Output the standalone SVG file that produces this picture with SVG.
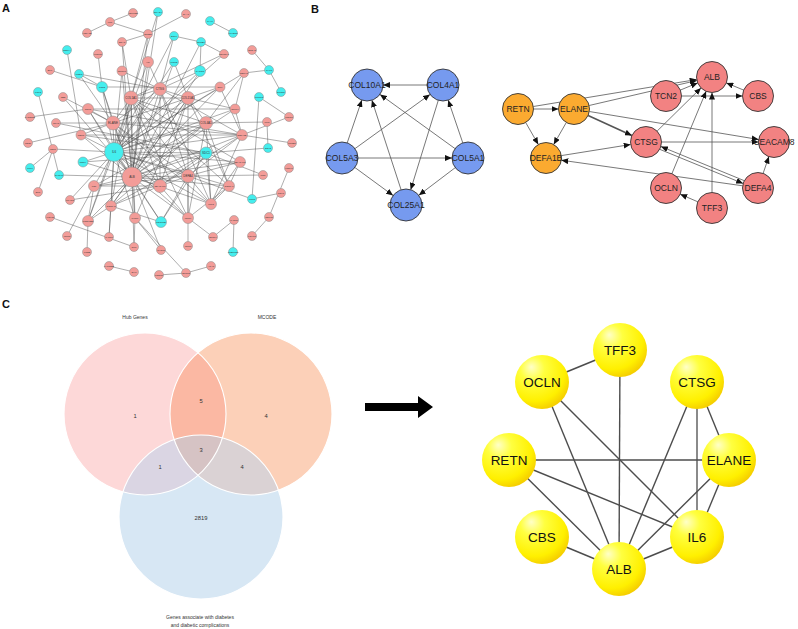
<svg xmlns="http://www.w3.org/2000/svg" width="798" height="629" viewBox="0 0 798 629">
<style>
text{font-family:"Liberation Sans",Arial,sans-serif}
.lbl{font-size:11px;font-weight:bold;fill:#111}
.ae line{stroke:#4a4a4a;stroke-width:0.45}
.ap{fill:#f39c98;stroke:#8a8a8a;stroke-width:0.5}
.ac{fill:#44eeee;stroke:#8a8a8a;stroke-width:0.5}
.at{font-size:2.3px;fill:#333;text-anchor:middle;dominant-baseline:central}
.aT{font-size:3px;fill:#333;text-anchor:middle;dominant-baseline:central}
.be line{stroke:#555;stroke-width:0.8;marker-end:url(#arr)}
.bb{fill:#769aef;stroke:#333;stroke-width:0.9}
.bo{fill:#fbaa30;stroke:#333;stroke-width:0.9}
.bp{fill:#f28282;stroke:#333;stroke-width:0.9}
.bt{font-size:8.5px;fill:#222;text-anchor:middle;dominant-baseline:central}
.vt{font-size:5px;fill:#333;text-anchor:middle}
.vn{font-size:5.8px;fill:#333;text-anchor:middle}
.ye line{stroke:#4d4d4d;stroke-width:1.4}
.yn{fill:url(#yg)}
.yt{font-size:13.5px;fill:#111;text-anchor:middle;dominant-baseline:central}
</style>
<defs>
<marker id="arr" markerWidth="7" markerHeight="6" refX="7" refY="3" orient="auto" markerUnits="userSpaceOnUse"><path d="M0,0L7,3L0,6z" fill="#111"/></marker>
<radialGradient id="yg" cx="0.38" cy="0.32" r="0.75" fx="0.3" fy="0.22">
<stop offset="0" stop-color="#ffffc8"/><stop offset="0.3" stop-color="#ffff40"/><stop offset="0.75" stop-color="#fff000"/><stop offset="1" stop-color="#f2c400"/>
</radialGradient>
<clipPath id="cH"><circle cx="145" cy="414" r="81"/></clipPath>
<clipPath id="cM"><circle cx="251" cy="414" r="81"/></clipPath>
</defs>
<rect width="798" height="629" fill="#fff"/>
<text class="lbl" x="2" y="12">A</text>
<text class="lbl" x="311" y="13">B</text>
<text class="lbl" x="2" y="308">C</text>

<!-- Panel A edges -->
<g id="edges-A" class="ae">
<line x1="133" y1="13" x2="110" y2="22"/><line x1="110" y1="22" x2="87" y2="33"/><line x1="110" y1="22" x2="148" y2="34"/><line x1="158" y1="12" x2="131" y2="98"/><line x1="186" y1="14" x2="148" y2="34"/><line x1="210" y1="21" x2="233" y2="33"/><line x1="174" y1="36" x2="201" y2="42"/><line x1="174" y1="36" x2="114" y2="152"/><line x1="201" y1="42" x2="224" y2="54"/><line x1="201" y1="42" x2="200" y2="71"/><line x1="201" y1="42" x2="132" y2="177"/><line x1="252" y1="50" x2="269" y2="70"/><line x1="269" y1="70" x2="281" y2="92"/><line x1="269" y1="70" x2="244" y2="73"/><line x1="67" y1="50" x2="81" y2="135"/><line x1="98" y1="54" x2="102" y2="87"/><line x1="122" y1="42" x2="148" y2="34"/><line x1="122" y1="42" x2="132" y2="177"/><line x1="50" y1="70" x2="102" y2="87"/><line x1="79" y1="74" x2="102" y2="87"/><line x1="79" y1="74" x2="160" y2="89"/><line x1="38" y1="92" x2="59" y2="175"/><line x1="30" y1="117" x2="88" y2="109"/><line x1="28" y1="143" x2="113" y2="123"/><line x1="30" y1="168" x2="53" y2="149"/><line x1="38" y1="192" x2="53" y2="149"/><line x1="50" y1="217" x2="134" y2="247"/><line x1="67" y1="236" x2="94" y2="186"/><line x1="87" y1="252" x2="88" y2="221"/><line x1="109" y1="266" x2="134" y2="272"/><line x1="159" y1="275" x2="186" y2="273"/><line x1="186" y1="273" x2="211" y2="266"/><line x1="186" y1="273" x2="135" y2="218"/><line x1="289" y1="168" x2="269" y2="217"/><line x1="269" y1="217" x2="252" y2="236"/><line x1="281" y1="193" x2="252" y2="199"/><line x1="252" y1="199" x2="188" y2="176"/><line x1="234" y1="220" x2="213" y2="237"/><line x1="234" y1="220" x2="233" y2="252"/><line x1="213" y1="237" x2="188" y2="218"/><line x1="188" y1="246" x2="188" y2="218"/><line x1="259" y1="97" x2="289" y2="117"/><line x1="259" y1="97" x2="252" y2="199"/><line x1="267" y1="122" x2="268" y2="148"/><line x1="292" y1="143" x2="242" y2="135"/>
<line x1="148" y1="34" x2="132" y2="177"/><line x1="148" y1="34" x2="131" y2="98"/><line x1="148" y1="62" x2="132" y2="177"/><line x1="148" y1="62" x2="160" y2="89"/><line x1="174" y1="62" x2="114" y2="152"/><line x1="174" y1="62" x2="132" y2="177"/><line x1="200" y1="71" x2="132" y2="177"/><line x1="200" y1="71" x2="114" y2="152"/><line x1="244" y1="73" x2="114" y2="152"/><line x1="244" y1="73" x2="235" y2="109"/><line x1="220" y1="87" x2="242" y2="135"/><line x1="224" y1="54" x2="114" y2="152"/><line x1="102" y1="87" x2="113" y2="123"/><line x1="102" y1="87" x2="220" y2="87"/><line x1="63" y1="97" x2="132" y2="177"/><line x1="63" y1="97" x2="113" y2="123"/><line x1="56" y1="123" x2="206" y2="153"/><line x1="88" y1="109" x2="242" y2="135"/><line x1="81" y1="135" x2="242" y2="135"/><line x1="81" y1="135" x2="206" y2="153"/><line x1="53" y1="149" x2="114" y2="152"/><line x1="83" y1="162" x2="114" y2="152"/><line x1="83" y1="162" x2="132" y2="177"/><line x1="59" y1="175" x2="132" y2="177"/><line x1="94" y1="186" x2="132" y2="177"/><line x1="94" y1="186" x2="88" y2="221"/><line x1="70" y1="200" x2="114" y2="152"/><line x1="111" y1="206" x2="88" y2="221"/><line x1="111" y1="206" x2="109" y2="237"/><line x1="135" y1="218" x2="134" y2="247"/><line x1="135" y1="218" x2="161" y2="250"/><line x1="161" y1="222" x2="188" y2="176"/><line x1="161" y1="222" x2="206" y2="153"/><line x1="160" y1="186" x2="188" y2="218"/><line x1="229" y1="186" x2="188" y2="218"/><line x1="211" y1="204" x2="229" y2="186"/><line x1="263" y1="175" x2="188" y2="176"/><line x1="263" y1="175" x2="206" y2="153"/><line x1="109" y1="237" x2="114" y2="152"/><line x1="134" y1="247" x2="132" y2="177"/><line x1="88" y1="221" x2="114" y2="152"/><line x1="88" y1="221" x2="132" y2="177"/>
<line x1="114" y1="152" x2="113" y2="123"/><line x1="114" y1="152" x2="132" y2="177"/><line x1="114" y1="152" x2="131" y2="98"/><line x1="114" y1="152" x2="160" y2="89"/><line x1="114" y1="152" x2="188" y2="98"/><line x1="114" y1="152" x2="206" y2="123"/><line x1="114" y1="152" x2="242" y2="135"/><line x1="114" y1="152" x2="206" y2="153"/><line x1="114" y1="152" x2="188" y2="176"/><line x1="114" y1="152" x2="160" y2="186"/><line x1="114" y1="152" x2="211" y2="204"/><line x1="114" y1="152" x2="94" y2="186"/><line x1="114" y1="152" x2="111" y2="206"/><line x1="114" y1="152" x2="135" y2="218"/><line x1="114" y1="152" x2="88" y2="109"/><line x1="114" y1="152" x2="81" y2="135"/><line x1="114" y1="152" x2="122" y2="71"/><line x1="114" y1="152" x2="102" y2="87"/><line x1="114" y1="152" x2="148" y2="62"/><line x1="114" y1="152" x2="188" y2="218"/><line x1="114" y1="152" x2="240" y2="162"/><line x1="114" y1="152" x2="235" y2="109"/><line x1="114" y1="152" x2="220" y2="87"/><line x1="114" y1="152" x2="229" y2="186"/><line x1="114" y1="152" x2="161" y2="222"/>
<line x1="132" y1="177" x2="113" y2="123"/><line x1="132" y1="177" x2="131" y2="98"/><line x1="132" y1="177" x2="160" y2="89"/><line x1="132" y1="177" x2="188" y2="98"/><line x1="132" y1="177" x2="206" y2="123"/><line x1="132" y1="177" x2="242" y2="135"/><line x1="132" y1="177" x2="206" y2="153"/><line x1="132" y1="177" x2="188" y2="176"/><line x1="132" y1="177" x2="160" y2="186"/><line x1="132" y1="177" x2="211" y2="204"/><line x1="132" y1="177" x2="111" y2="206"/><line x1="132" y1="177" x2="135" y2="218"/><line x1="132" y1="177" x2="161" y2="222"/><line x1="132" y1="177" x2="188" y2="218"/><line x1="132" y1="177" x2="88" y2="109"/><line x1="132" y1="177" x2="81" y2="135"/><line x1="132" y1="177" x2="102" y2="87"/><line x1="132" y1="177" x2="122" y2="71"/><line x1="132" y1="177" x2="220" y2="87"/><line x1="132" y1="177" x2="235" y2="109"/><line x1="132" y1="177" x2="229" y2="186"/><line x1="132" y1="177" x2="161" y2="250"/><line x1="132" y1="177" x2="158" y2="12"/><line x1="132" y1="177" x2="240" y2="162"/>
<line x1="113" y1="123" x2="131" y2="98"/><line x1="113" y1="123" x2="160" y2="89"/><line x1="113" y1="123" x2="188" y2="98"/><line x1="113" y1="123" x2="206" y2="123"/><line x1="113" y1="123" x2="242" y2="135"/><line x1="113" y1="123" x2="188" y2="176"/><line x1="113" y1="123" x2="160" y2="186"/><line x1="113" y1="123" x2="211" y2="204"/><line x1="113" y1="123" x2="88" y2="109"/><line x1="113" y1="123" x2="81" y2="135"/><line x1="113" y1="123" x2="56" y2="123"/><line x1="113" y1="123" x2="79" y2="74"/>
<line x1="131" y1="98" x2="188" y2="98"/><line x1="131" y1="98" x2="206" y2="123"/><line x1="131" y1="98" x2="160" y2="89"/><line x1="131" y1="98" x2="111" y2="206"/><line x1="131" y1="98" x2="229" y2="186"/><line x1="131" y1="98" x2="224" y2="54"/><line x1="131" y1="98" x2="88" y2="221"/><line x1="131" y1="98" x2="122" y2="42"/><line x1="131" y1="98" x2="188" y2="176"/><line x1="131" y1="98" x2="160" y2="186"/><line x1="131" y1="98" x2="135" y2="218"/><line x1="131" y1="98" x2="188" y2="218"/><line x1="131" y1="98" x2="240" y2="162"/>
<line x1="160" y1="89" x2="242" y2="135"/><line x1="160" y1="89" x2="188" y2="176"/><line x1="160" y1="89" x2="160" y2="186"/><line x1="160" y1="89" x2="211" y2="204"/><line x1="160" y1="89" x2="188" y2="98"/><line x1="160" y1="89" x2="200" y2="71"/><line x1="160" y1="89" x2="174" y2="36"/><line x1="160" y1="89" x2="122" y2="71"/>
<line x1="188" y1="98" x2="206" y2="123"/><line x1="188" y1="98" x2="111" y2="206"/><line x1="188" y1="98" x2="229" y2="186"/><line x1="188" y1="98" x2="220" y2="87"/><line x1="188" y1="98" x2="188" y2="218"/><line x1="188" y1="98" x2="160" y2="186"/><line x1="188" y1="98" x2="135" y2="218"/><line x1="188" y1="98" x2="235" y2="109"/><line x1="188" y1="98" x2="174" y2="62"/>
<line x1="206" y1="123" x2="111" y2="206"/><line x1="206" y1="123" x2="229" y2="186"/><line x1="206" y1="123" x2="188" y2="218"/><line x1="206" y1="123" x2="211" y2="204"/><line x1="206" y1="123" x2="244" y2="73"/><line x1="206" y1="123" x2="267" y2="122"/><line x1="206" y1="123" x2="94" y2="186"/>
<line x1="242" y1="135" x2="188" y2="176"/><line x1="242" y1="135" x2="160" y2="186"/><line x1="242" y1="135" x2="211" y2="204"/><line x1="242" y1="135" x2="235" y2="109"/><line x1="242" y1="135" x2="289" y2="117"/>
<line x1="206" y1="153" x2="268" y2="148"/><line x1="206" y1="153" x2="160" y2="186"/><line x1="206" y1="153" x2="111" y2="206"/><line x1="206" y1="153" x2="211" y2="204"/><line x1="206" y1="153" x2="83" y2="162"/>
<line x1="188" y1="176" x2="160" y2="186"/><line x1="188" y1="176" x2="211" y2="204"/><line x1="188" y1="176" x2="188" y2="218"/><line x1="188" y1="176" x2="240" y2="162"/><line x1="188" y1="176" x2="94" y2="186"/><line x1="160" y1="186" x2="94" y2="186"/><line x1="160" y1="186" x2="70" y2="200"/><line x1="160" y1="186" x2="111" y2="206"/><line x1="211" y1="204" x2="240" y2="162"/><line x1="111" y1="206" x2="161" y2="222"/><line x1="229" y1="186" x2="240" y2="162"/><line x1="88" y1="109" x2="235" y2="109"/>
</g>

<!-- Panel A nodes -->
<g id="nodes-A">
<g id="a1"><circle class="ap" cx="133" cy="13" r="4.5"/><text class="at" x="133" y="13">HSP90B1</text></g>
<g id="a2"><circle class="ac" cx="158" cy="12" r="4.5"/><text class="at" x="158" y="12">SMAD4</text></g>
<g id="a3"><circle class="ap" cx="186" cy="14" r="4.5"/><text class="at" x="186" y="14">SAA1</text></g>
<g id="a4"><circle class="ap" cx="110" cy="22" r="4.5"/><text class="at" x="110" y="22">LCT</text></g>
<g id="a5"><circle class="ac" cx="210" cy="21" r="4.5"/><text class="at" x="210" y="21">PAX7</text></g>
<g id="a6"><circle class="ap" cx="87" cy="33" r="4.5"/><text class="at" x="87" y="33">HSPA1B</text></g>
<g id="a7"><circle class="ap" cx="148" cy="34" r="4.5"/><text class="at" x="148" y="34">SPSB1</text></g>
<g id="a8"><circle class="ac" cx="174" cy="36" r="4.5"/><text class="at" x="174" y="36">EGFL</text></g>
<g id="a9"><circle class="ac" cx="233" cy="33" r="4.5"/><text class="at" x="233" y="33">KLHDC8</text></g>
<g id="a10"><circle class="ap" cx="122" cy="42" r="4.5"/><text class="at" x="122" y="42">SNAI1</text></g>
<g id="a11"><circle class="ac" cx="201" cy="42" r="4.5"/><text class="at" x="201" y="42">EFNB1</text></g>
<g id="a12"><circle class="ac" cx="67" cy="50" r="4.5"/><text class="at" x="67" y="50">SCN4A</text></g>
<g id="a13"><circle class="ap" cx="252" cy="50" r="4.5"/><text class="at" x="252" y="50">SPSA2</text></g>
<g id="a14"><circle class="ap" cx="98" cy="54" r="4.5"/><text class="at" x="98" y="54">MCM10</text></g>
<g id="a15"><circle class="ap" cx="148" cy="62" r="5.5"/><text class="at" x="148" y="62">VIP</text></g>
<g id="a16"><circle class="ac" cx="174" cy="62" r="4.5"/><text class="at" x="174" y="62">MCM2</text></g>
<g id="a17"><circle class="ap" cx="224" cy="54" r="4.5"/><text class="at" x="224" y="54">COL18A1</text></g>
<g id="a18"><circle class="ap" cx="50" cy="70" r="4.5"/><text class="at" x="50" y="70">BLK</text></g>
<g id="a19"><circle class="ac" cx="79" cy="74" r="4.5"/><text class="at" x="79" y="74">PODN</text></g>
<g id="a20"><circle class="ap" cx="122" cy="71" r="5"/><text class="at" x="122" y="71">SPINK1</text></g>
<g id="a21"><circle class="ac" cx="200" cy="71" r="5.5"/><text class="at" x="200" y="71">NANOG</text></g>
<g id="a22"><circle class="ac" cx="269" cy="70" r="4.5"/><text class="at" x="269" y="70">CALR</text></g>
<g id="a23"><circle class="ap" cx="244" cy="73" r="4.5"/><text class="at" x="244" y="73">SEMA3</text></g>
<g id="a24"><circle class="ac" cx="102" cy="87" r="5.5"/><text class="at" x="102" y="87">TCN2</text></g>
<g id="a25"><circle class="ap" cx="160" cy="89" r="6.5"/><text class="aT" x="160" y="89">CTSG</text></g>
<g id="a26"><circle class="ap" cx="220" cy="87" r="5"/><text class="at" x="220" y="87">SLPI</text></g>
<g id="a27"><circle class="ac" cx="38" cy="92" r="4.5"/><text class="at" x="38" y="92">FGF2</text></g>
<g id="a28"><circle class="ap" cx="63" cy="97" r="4.5"/><text class="at" x="63" y="97">CBS</text></g>
<g id="a29"><circle class="ap" cx="131" cy="98" r="7"/><text class="aT" x="131" y="98">COL1A1</text></g>
<g id="a30"><circle class="ap" cx="188" cy="98" r="6.5"/><text class="aT" x="188" y="98">COL15A1</text></g>
<g id="a31"><circle class="ac" cx="259" cy="97" r="4.5"/><text class="at" x="259" y="97">TCF7L2</text></g>
<g id="a32"><circle class="ac" cx="281" cy="92" r="4.5"/><text class="at" x="281" y="92">SPON1</text></g>
<g id="a33"><circle class="ap" cx="88" cy="109" r="5.5"/><text class="at" x="88" y="109">OCLN</text></g>
<g id="a34"><circle class="ap" cx="235" cy="109" r="5"/><text class="at" x="235" y="109">OLFM4</text></g>
<g id="a35"><circle class="ap" cx="30" cy="117" r="4.5"/><text class="at" x="30" y="117">TACSTD2</text></g>
<g id="a36"><circle class="ap" cx="289" cy="117" r="4.5"/><text class="at" x="289" y="117">TRPC1</text></g>
<g id="a37"><circle class="ap" cx="56" cy="123" r="4.5"/><text class="at" x="56" y="123">GPX3</text></g>
<g id="a38"><circle class="ap" cx="113" cy="123" r="7"/><text class="aT" x="113" y="123">ELANE</text></g>
<g id="a39"><circle class="ap" cx="206" cy="123" r="6.5"/><text class="aT" x="206" y="123">COL4A1</text></g>
<g id="a40"><circle class="ap" cx="267" cy="122" r="4.5"/><text class="at" x="267" y="122">MLN</text></g>
<g id="a41"><circle class="ap" cx="81" cy="135" r="5"/><text class="at" x="81" y="135">RETN</text></g>
<g id="a42"><circle class="ap" cx="242" cy="135" r="5.5"/><text class="at" x="242" y="135">DEFA1B</text></g>
<g id="a43"><circle class="ap" cx="28" cy="143" r="4.5"/><text class="at" x="28" y="143">CD36</text></g>
<g id="a44"><circle class="ap" cx="292" cy="143" r="4.5"/><text class="at" x="292" y="143">CCNE1</text></g>
<g id="a45"><circle class="ap" cx="53" cy="149" r="4.5"/><text class="at" x="53" y="149">LEPR</text></g>
<g id="a46"><circle class="ac" cx="114" cy="152" r="9.5"/><text class="aT" x="114" y="152">IL6</text></g>
<g id="a47"><circle class="ac" cx="206" cy="153" r="6"/><text class="aT" x="206" y="153">SDC1</text></g>
<g id="a48"><circle class="ac" cx="268" cy="148" r="4.5"/><text class="at" x="268" y="148">SOX2</text></g>
<g id="a49"><circle class="ac" cx="30" cy="168" r="4.5"/><text class="at" x="30" y="168">TFF1</text></g>
<g id="a50"><circle class="ac" cx="83" cy="162" r="5"/><text class="at" x="83" y="162">REG4</text></g>
<g id="a51"><circle class="ap" cx="240" cy="162" r="5.5"/><text class="at" x="240" y="162">CEACAM8</text></g>
<g id="a52"><circle class="ac" cx="59" cy="175" r="4.5"/><text class="at" x="59" y="175">SHOX2</text></g>
<g id="a53"><circle class="ap" cx="132" cy="177" r="10"/><text class="aT" x="132" y="177">ALB</text></g>
<g id="a54"><circle class="ap" cx="188" cy="176" r="6.5"/><text class="aT" x="188" y="176">DEFA4</text></g>
<g id="a55"><circle class="ap" cx="289" cy="168" r="4.5"/><text class="at" x="289" y="168">KCNV1</text></g>
<g id="a56"><circle class="ap" cx="94" cy="186" r="5.5"/><text class="at" x="94" y="186">FST</text></g>
<g id="a57"><circle class="ap" cx="160" cy="186" r="6.5"/><text class="at" x="160" y="186">CEACAM6</text></g>
<g id="a58"><circle class="ap" cx="263" cy="175" r="4.5"/><text class="at" x="263" y="175">PGR</text></g>
<g id="a59"><circle class="ap" cx="38" cy="192" r="4.5"/><text class="at" x="38" y="192">ELN</text></g>
<g id="a60"><circle class="ap" cx="229" cy="186" r="5.5"/><text class="at" x="229" y="186">COL5A1</text></g>
<g id="a61"><circle class="ap" cx="281" cy="193" r="4.5"/><text class="at" x="281" y="193">NOX1</text></g>
<g id="a62"><circle class="ap" cx="70" cy="200" r="4.5"/><text class="at" x="70" y="200">PPARG</text></g>
<g id="a63"><circle class="ap" cx="111" cy="206" r="5.5"/><text class="at" x="111" y="206">COL5A3</text></g>
<g id="a64"><circle class="ap" cx="211" cy="204" r="5.5"/><text class="at" x="211" y="204">TFF3</text></g>
<g id="a65"><circle class="ac" cx="252" cy="199" r="4.5"/><text class="at" x="252" y="199">KRT5</text></g>
<g id="a66"><circle class="ap" cx="50" cy="217" r="4.5"/><text class="at" x="50" y="217">ALOX15</text></g>
<g id="a67"><circle class="ap" cx="88" cy="221" r="5.5"/><text class="at" x="88" y="221">PCOLCE2</text></g>
<g id="a68"><circle class="ap" cx="135" cy="218" r="5.5"/><text class="at" x="135" y="218">TIMP1</text></g>
<g id="a69"><circle class="ac" cx="161" cy="222" r="5.5"/><text class="at" x="161" y="222">PDGFRB</text></g>
<g id="a70"><circle class="ap" cx="188" cy="218" r="5.5"/><text class="at" x="188" y="218">MMP9</text></g>
<g id="a71"><circle class="ap" cx="234" cy="220" r="4.5"/><text class="at" x="234" y="220">TAGLN</text></g>
<g id="a72"><circle class="ap" cx="269" cy="217" r="4.5"/><text class="at" x="269" y="217">GDF15</text></g>
<g id="a73"><circle class="ap" cx="67" cy="236" r="4.5"/><text class="at" x="67" y="236">MMP3</text></g>
<g id="a74"><circle class="ap" cx="109" cy="237" r="4.5"/><text class="at" x="109" y="237">TACR1</text></g>
<g id="a75"><circle class="ap" cx="134" cy="247" r="4.5"/><text class="at" x="134" y="247">CILP</text></g>
<g id="a76"><circle class="ap" cx="161" cy="250" r="4.5"/><text class="at" x="161" y="250">CXCL5</text></g>
<g id="a77"><circle class="ap" cx="188" cy="246" r="4.5"/><text class="at" x="188" y="246">MMP7</text></g>
<g id="a78"><circle class="ap" cx="213" cy="237" r="4.5"/><text class="at" x="213" y="237">SFRP4</text></g>
<g id="a79"><circle class="ap" cx="252" cy="236" r="4.5"/><text class="at" x="252" y="236">FOXM1</text></g>
<g id="a80"><circle class="ap" cx="87" cy="252" r="4.5"/><text class="at" x="87" y="252">FRZB</text></g>
<g id="a81"><circle class="ac" cx="233" cy="252" r="4.5"/><text class="at" x="233" y="252">TMEM158</text></g>
<g id="a82"><circle class="ap" cx="109" cy="266" r="4.5"/><text class="at" x="109" y="266">FAM135B</text></g>
<g id="a83"><circle class="ap" cx="134" cy="272" r="4.5"/><text class="at" x="134" y="272">SIX1</text></g>
<g id="a84"><circle class="ap" cx="211" cy="266" r="4.5"/><text class="at" x="211" y="266">ACAN</text></g>
<g id="a85"><circle class="ap" cx="159" cy="275" r="4.5"/><text class="at" x="159" y="275">POSTN</text></g>
<g id="a86"><circle class="ap" cx="186" cy="273" r="4.5"/><text class="at" x="186" y="273">SFRP2</text></g>
</g>

<!-- Panel B edges -->
<g id="edges-B" class="be">
<line x1="427" y1="85" x2="383" y2="85"/>
<line x1="347.2" y1="142.9" x2="361.8" y2="100.1"/>
<line x1="355" y1="148.6" x2="430" y2="94.4"/>
<line x1="358" y1="158" x2="452" y2="158"/>
<line x1="354.9" y1="167.5" x2="393.1" y2="195.5"/>
<line x1="455" y1="148.6" x2="380" y2="94.4"/>
<line x1="462.8" y1="142.9" x2="448.2" y2="100.1"/>
<line x1="455.2" y1="167.7" x2="418.8" y2="195.3"/>
<line x1="438.3" y1="100.3" x2="410.7" y2="189.7"/>
<line x1="401.1" y1="189.8" x2="371.9" y2="100.2"/>
<line x1="533.5" y1="109" x2="558.5" y2="109"/>
<line x1="525.7" y1="122.5" x2="538.3" y2="144.5"/>
<line x1="566.3" y1="122.5" x2="553.7" y2="144.5"/>
<line x1="533.3" y1="106.5" x2="696.7" y2="79.5"/>
<line x1="589.1" y1="105.5" x2="696.9" y2="80.5"/>
<line x1="589.3" y1="111.5" x2="758.7" y2="139.5"/>
<line x1="588.1" y1="115.5" x2="631.9" y2="135.5" style="stroke-width:1.6"/>
<line x1="561.3" y1="155.6" x2="630.7" y2="144.5"/>
<line x1="742.7" y1="185.8" x2="561.3" y2="160.2"/>
<line x1="680.3" y1="90.1" x2="697.7" y2="82.9"/>
<line x1="681.5" y1="96" x2="742.5" y2="96"/>
<line x1="743.7" y1="90.1" x2="726.3" y2="82.9"/>
<line x1="657.1" y1="131.1" x2="701" y2="87.9"/>
<line x1="661.5" y1="142" x2="758.5" y2="142"/>
<line x1="744.3" y1="180.7" x2="660.9" y2="146.5"/>
<line x1="659.7" y1="149.3" x2="743.1" y2="183.5"/>
<line x1="671.9" y1="173.7" x2="706.1" y2="91.3"/>
<line x1="712" y1="192.5" x2="712" y2="92.5"/>
<line x1="697.8" y1="201.8" x2="680.2" y2="194.2"/>
<line x1="763.1" y1="173.4" x2="768.9" y2="156.6"/>
</g>

<!-- Panel B nodes -->
<g id="b-COL10A1"><circle class="bb" cx="367" cy="85" r="16"/><text class="bt" x="367" y="85">COL10A1</text></g>
<g id="b-COL4A1"><circle class="bb" cx="443" cy="85" r="16"/><text class="bt" x="443" y="85">COL4A1</text></g>
<g id="b-COL5A3"><circle class="bb" cx="342" cy="158" r="16"/><text class="bt" x="342" y="158">COL5A3</text></g>
<g id="b-COL5A1"><circle class="bb" cx="468" cy="158" r="16"/><text class="bt" x="468" y="158">COL5A1</text></g>
<g id="b-COL25A1"><circle class="bb" cx="406" cy="205" r="16"/><text class="bt" x="406" y="205">COL25A1</text></g>
<g id="b-RETN"><circle class="bo" cx="518" cy="109" r="15.5"/><text class="bt" x="518" y="109">RETN</text></g>
<g id="b-ELANE"><circle class="bo" cx="574" cy="109" r="15.5"/><text class="bt" x="574" y="109">ELANE</text></g>
<g id="b-DEFA1B"><circle class="bo" cx="546" cy="158" r="15.5"/><text class="bt" x="546" y="158">DEFA1B</text></g>
<g id="b-ALB"><circle class="bp" cx="712" cy="77" r="15.5"/><text class="bt" x="712" y="77">ALB</text></g>
<g id="b-TCN2"><circle class="bp" cx="666" cy="96" r="15.5"/><text class="bt" x="666" y="96">TCN2</text></g>
<g id="b-CBS"><circle class="bp" cx="758" cy="96" r="15.5"/><text class="bt" x="758" y="96">CBS</text></g>
<g id="b-CTSG"><circle class="bp" cx="646" cy="142" r="15.5"/><text class="bt" x="646" y="142">CTSG</text></g>
<g id="b-CEACAM8"><circle class="bp" cx="774" cy="142" r="15.5"/><text class="bt" x="774" y="142">CEACAM8</text></g>
<g id="b-OCLN"><circle class="bp" cx="666" cy="188" r="15.5"/><text class="bt" x="666" y="188">OCLN</text></g>
<g id="b-DEFA4"><circle class="bp" cx="758" cy="188" r="15.5"/><text class="bt" x="758" y="188">DEFA4</text></g>
<g id="b-TFF3"><circle class="bp" cx="712" cy="208" r="15.5"/><text class="bt" x="712" y="208">TFF3</text></g>

<!-- Panel C Venn -->
<g id="venn">
<circle cx="145" cy="414" r="81" fill="#fdd8d8"/>
<circle cx="251" cy="414" r="81" fill="#fcd0b8"/>
<circle cx="201" cy="517" r="82" fill="#d7e7f4"/>
<circle cx="251" cy="414" r="81" fill="#fbb8a3" clip-path="url(#cH)"/>
<circle cx="201" cy="517" r="82" fill="#dad5e3" clip-path="url(#cH)"/>
<circle cx="201" cy="517" r="82" fill="#dad2d4" clip-path="url(#cM)"/>
<g clip-path="url(#cM)"><circle cx="201" cy="517" r="82" fill="#d6c3c4" clip-path="url(#cH)"/></g>
<g fill="none" stroke="#fff" stroke-width="1.1">
<circle cx="145" cy="414" r="81"/><circle cx="251" cy="414" r="81"/><circle cx="201" cy="517" r="82"/>
</g>
<text class="vt" x="135" y="319">Hub Genes</text>
<text class="vt" x="267" y="319">MCODE</text>
<text class="vn" x="135" y="418">1</text>
<text class="vn" x="201" y="403">5</text>
<text class="vn" x="266" y="418">4</text>
<text class="vn" x="201" y="452">3</text>
<text class="vn" x="160" y="469">1</text>
<text class="vn" x="242" y="469">4</text>
<text class="vn" x="201" y="520">2819</text>
<text class="vt" x="200" y="619">Genes associate with diabetes</text>
<text class="vt" x="200" y="626.5">and diabetic complications</text>
</g>

<!-- Arrow -->
<polygon id="big-arrow" points="365,403 418,403 418,396 433,407 418,418 418,411 365,411" fill="#000"/>

<!-- Right network edges -->
<g id="edges-Y" class="ye">
<line x1="620" y1="350" x2="542" y2="382"/>
<line x1="620" y1="350" x2="619" y2="569"/>
<line x1="542" y1="382" x2="619" y2="569"/>
<line x1="542" y1="382" x2="697" y2="537"/>
<line x1="697" y1="382" x2="619" y2="569"/>
<line x1="697" y1="382" x2="697" y2="537" style="stroke:#8a8a8a;stroke-width:2"/>
<line x1="697" y1="382" x2="729" y2="460"/>
<line x1="509" y1="460" x2="729" y2="460"/>
<line x1="509" y1="460" x2="697" y2="537"/>
<line x1="509" y1="460" x2="619" y2="569"/>
<line x1="729" y1="460" x2="619" y2="569"/>
<line x1="729" y1="460" x2="697" y2="537"/>
<line x1="542" y1="537" x2="619" y2="569"/>
<line x1="697" y1="537" x2="619" y2="569"/>
</g>
<g id="y-TFF3"><circle class="yn" cx="620" cy="350" r="27"/><text class="yt" x="620" y="350">TFF3</text></g>
<g id="y-OCLN"><circle class="yn" cx="542" cy="382" r="27"/><text class="yt" x="542" y="382">OCLN</text></g>
<g id="y-CTSG"><circle class="yn" cx="697" cy="382" r="27"/><text class="yt" x="697" y="382">CTSG</text></g>
<g id="y-RETN"><circle class="yn" cx="509" cy="460" r="27"/><text class="yt" x="509" y="460">RETN</text></g>
<g id="y-ELANE"><circle class="yn" cx="729" cy="460" r="27"/><text class="yt" x="729" y="460">ELANE</text></g>
<g id="y-CBS"><circle class="yn" cx="542" cy="537" r="27"/><text class="yt" x="542" y="537">CBS</text></g>
<g id="y-IL6"><circle class="yn" cx="697" cy="537" r="27"/><text class="yt" x="697" y="537">IL6</text></g>
<g id="y-ALB"><circle class="yn" cx="619" cy="569" r="27"/><text class="yt" x="619" y="569">ALB</text></g>
</svg>
